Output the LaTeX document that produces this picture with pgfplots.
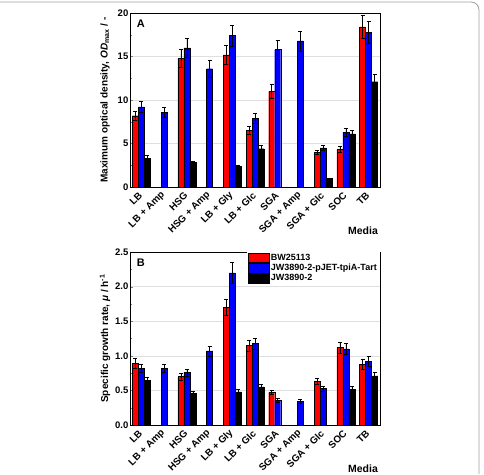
\documentclass[border=0pt]{standalone}
\usepackage{fontspec}
\setmainfont{Liberation Sans}
\usepackage{pgfplots}
\pgfplotsset{compat=1.18}
\definecolor{barred}{RGB}{255,0,0}
\definecolor{barblue}{RGB}{0,0,255}
\pgfplotsset{
  panel/.style={
    scale only axis,
    width=250pt,
    xmin=-0.5, xmax=10.5,
    xtick={0,...,10},
    xticklabels={LB, LB + Amp, HSG, HSG + Amp, LB + Gly, LB + Glc, SGA, SGA + Amp, SGA + Glc, SOC, TB},
    x tick style={draw=none},
    xticklabel shift=6pt,
    xticklabel style={rotate=45, anchor=east, font=\bfseries\fontsize{9.8}{11}\selectfont, inner sep=1pt},
    yticklabel style={font=\bfseries\fontsize{9.5}{10}\selectfont, inner sep=1.5pt},
    /pgf/number format/assume math mode=true,
    ytick pos=left,
    tick align=inside,
    major tick length=3pt,
    minor tick length=2pt,
    minor y tick num=1,
    ymajorgrids,
    grid style={gray!25, line width=0.4pt},
    axis line style={line width=0.6pt},
    xlabel={Media},
    xlabel style={font=\bfseries\fontsize{10.5}{11}\selectfont, at={(axis description cs:0.932,-0.25)}, anchor=center, inner sep=0pt},
    ylabel style={font=\bfseries\fontsize{10}{11}\selectfont, at={(axis description cs:-0.1,0.5)}, anchor=center},
  },
  ebars/.style={error bars/.cd, y dir=both, y explicit, error bar style={black, line width=0.5pt}, error mark options={black, mark size=2pt, line width=0.5pt, rotate=90}},
  gbar/.style={ybar, bar width=0.264, bar shift=0pt, draw=black, line width=0.3pt, mark=none},
  rbar/.style={gbar, fill=barred, ebars},
  bbar/.style={gbar, fill=barblue, ebars},
  kbar/.style={gbar, fill=black, ebars},
}
\begin{document}
\begin{tikzpicture}
\path[use as bounding box] (0pt,0pt) rectangle (484pt,-474pt);
\draw[gray!75, line width=0.8pt, rounded corners=8pt] (0pt,-2pt) -- (479pt,-2pt) -- (479pt,-474pt);
% Panel A
\begin{axis}[panel, at={(130pt,-187pt)}, anchor=south west, height=174pt,
  ymin=0, ymax=20, ytick={0,5,10,15,20},
  ylabel={Maximum optical density, \textit{OD}\textsubscript{max} / -}]
% BW25113 (red), x = category - 0.264
\addplot[rbar] coordinates {
 (-0.264,8.2) +- (0,0.55)
 (1.736,14.8) +- (0,1.0)
 (3.736,15.2) +- (0,1.05)
 (4.736,6.5) +- (0,0.45)
 (5.736,11.0) +- (0,0.8)
 (7.736,4.0) +- (0,0.25)
 (8.736,4.3) +- (0,0.35)
 (9.736,18.4) +- (0,1.3)
};
% JW3890-2-pJET-tpiA-Tart (blue), x = category
\addplot[bbar] coordinates {
 (0,9.2) +- (0,0.65)
 (1,8.6) +- (0,0.6)
 (2,16.0) +- (0,1.1)
 (3,13.6) +- (0,0.95)
 (4,17.4) +- (0,1.2)
 (5,7.9) +- (0,0.55)
 (6,15.8) +- (0,1.1)
 (7,16.8) +- (0,1.15)
 (8,4.5) +- (0,0.3)
 (9,6.3) +- (0,0.5)
 (10,17.8) +- (0,1.25)
};
% JW3890-2 (black), x = category + 0.264
\addplot[kbar] coordinates {
 (0.264,3.3) +- (0,0.3)
 (2.264,2.8) +- (0,0.2)
 (4.264,2.4) +- (0,0.15)
 (5.264,4.4) +- (0,0.35)
 (8.264,1.0) +- (0,0.05)
 (9.264,6.1) +- (0,0.45)
 (10.264,12.1) +- (0,0.9)
};
\node[font=\bfseries\fontsize{11}{12}\selectfont] at (rel axis cs:0.043,0.94) {A};
\end{axis}
% Panel B
\begin{axis}[panel, at={(130pt,-425pt)}, anchor=south west, height=173pt,
  ymin=0, ymax=2.5, ytick={0,0.5,1,1.5,2,2.5},
  yticklabel style={/pgf/number format/fixed, /pgf/number format/fixed zerofill, /pgf/number format/precision=1},
  ylabel={Specific growth rate, \textit{μ} / h\textsuperscript{-1}},
  legend style={at={(rel axis cs:1,1)}, anchor=north east, draw=none, fill=white,
    font=\bfseries\fontsize{9}{10}\selectfont, row sep=0pt, inner xsep=1pt, inner ysep=0.5pt,
    nodes={inner xsep=2pt, inner ysep=1.2pt},
    cells={anchor=west}},
]
\addlegendimage{legend image code/.code={\draw[fill=barred, draw=black, line width=0.3pt] (0pt,-4.7pt) rectangle (21pt,4.7pt);}}
\addlegendentry{BW25113}
\addlegendimage{legend image code/.code={\draw[fill=barblue, draw=black, line width=0.3pt] (0pt,-4.7pt) rectangle (21pt,4.7pt);}}
\addlegendentry{JW3890-2-pJET-tpiA-Tart}
\addlegendimage{legend image code/.code={\draw[fill=black, draw=black, line width=0.3pt] (0pt,-4.7pt) rectangle (21pt,4.7pt);}}
\addlegendentry{JW3890-2}
\addplot[forget plot, rbar] coordinates {
 (-0.264,0.89) +- (0,0.07)
 (1.736,0.70) +- (0,0.05)
 (3.736,1.70) +- (0,0.12)
 (4.736,1.15) +- (0,0.08)
 (5.736,0.47) +- (0,0.03)
 (7.736,0.63) +- (0,0.045)
 (8.736,1.12) +- (0,0.08)
 (9.736,0.88) +- (0,0.07)
};
\addplot[forget plot, bbar] coordinates {
 (0,0.82) +- (0,0.06)
 (1,0.82) +- (0,0.06)
 (2,0.76) +- (0,0.05)
 (3,1.07) +- (0,0.07)
 (4,2.20) +- (0,0.15)
 (5,1.18) +- (0,0.08)
 (6,0.36) +- (0,0.03)
 (7,0.34) +- (0,0.025)
 (8,0.53) +- (0,0.035)
 (9,1.10) +- (0,0.075)
 (10,0.92) +- (0,0.07)
};
\addplot[forget plot, kbar] coordinates {
 (0.264,0.65) +- (0,0.045)
 (2.264,0.46) +- (0,0.03)
 (4.264,0.48) +- (0,0.03)
 (5.264,0.55) +- (0,0.04)
 (9.264,0.52) +- (0,0.035)
 (10.264,0.71) +- (0,0.05)
};
\node[font=\bfseries\fontsize{11}{12}\selectfont] at (rel axis cs:0.043,0.94) {B};
\end{axis}
\end{tikzpicture}
\end{document}
